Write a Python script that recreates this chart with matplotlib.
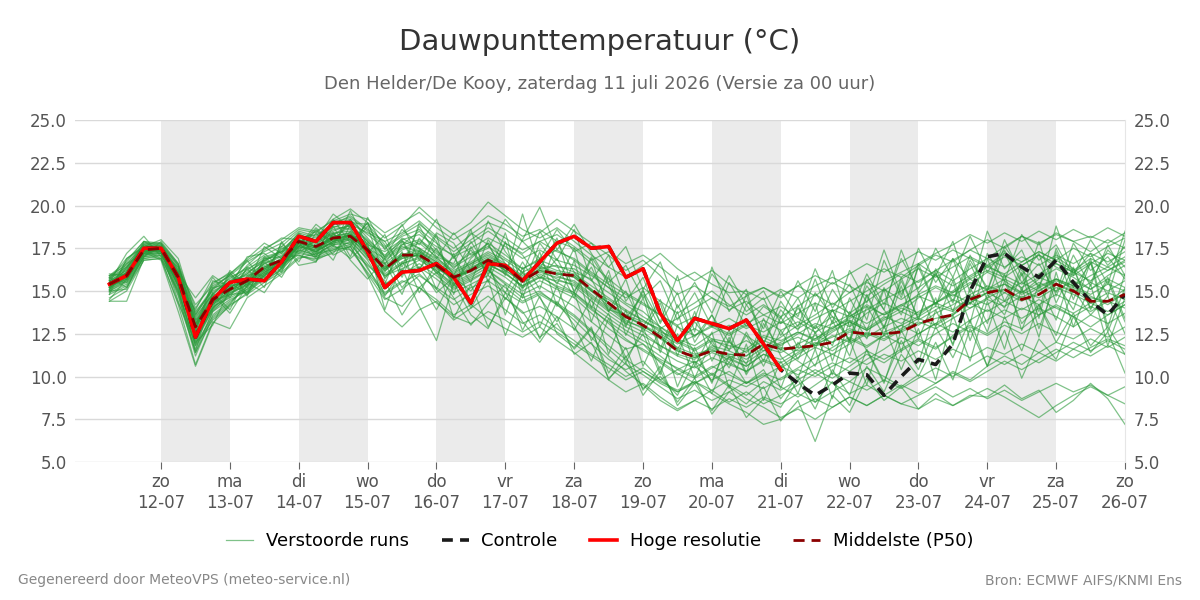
import matplotlib
matplotlib.use("Agg")
import matplotlib.pyplot as plt
import pandas as pd

# ---------------- data ----------------
start_time = "2026-07-11 06:00"
n_steps = 60  # 6-hourly

hres = [15.4, 15.9, 17.5, 17.5, 15.8, 12.3, 14.5, 15.5, 15.7, 15.6,
        16.7, 18.2, 17.9, 19.0, 19.0, 17.3, 15.2, 16.1, 16.2, 16.6,
        15.8, 14.3, 16.6, 16.5, 15.6, 16.7, 17.8, 18.2, 17.5, 17.6,
        15.8, 16.3, 13.7, 12.1, 13.4, 13.1, 12.8, 13.3, 11.9, 10.4]

control = [15.4, 15.9, 17.5, 17.5, 15.8, 12.3, 14.5, 15.5, 15.7, 15.6,
           16.7, 18.2, 17.9, 19.0, 19.0, 17.3, 15.2, 16.1, 16.2, 16.6,
           15.8, 14.3, 16.6, 16.5, 15.6, 16.7, 17.8, 18.2, 17.5, 17.6,
           15.8, 16.3, 13.7, 12.1, 13.4, 13.1, 12.8, 13.3, 11.9, 10.4,
           9.6, 8.9, 9.5, 10.2, 10.1, 8.9, 10.0, 11.0, 10.7, 11.9,
           15.0, 17.0, 17.2, 16.4, 15.8, 16.8, 15.5, 14.4, 13.6, 14.8]

p50 = [15.4, 15.9, 17.4, 17.5, 15.8, 12.9, 14.5, 15.1, 15.6, 16.4,
       16.8, 17.9, 17.6, 18.1, 18.2, 17.4, 16.3, 17.1, 17.1, 16.5,
       15.8, 16.2, 16.8, 16.4, 15.6, 16.2, 16.0, 15.9, 15.1, 14.3,
       13.5, 13.0, 12.3, 11.5, 11.15, 11.5, 11.3, 11.25, 11.9, 11.6,
       11.7, 11.8, 12.0, 12.6, 12.5, 12.5, 12.6, 13.1, 13.4, 13.6,
       14.5, 14.9, 15.1, 14.5, 14.8, 15.4, 15.0, 14.4, 14.4, 14.8]

members = [
    [15.2,15.8,17.3,17.6,15.5,12.4,14.2,15.0,15.8,16.6,17.1,18.0,17.8,18.5,18.9,17.9,16.8,17.5,17.9,17.2,
     16.4,17.0,17.8,17.1,16.3,16.9,17.4,16.8,16.0,15.2,14.3,13.8,12.9,12.1,11.6,12.2,12.0,11.4,12.3,11.8,
     12.5,13.1,12.8,13.5,14.2,13.6,14.1,14.8,15.3,14.9,15.7,16.2,15.8,16.5,17.1,16.4,15.9,16.6,17.2,16.8],
    [15.6,16.2,17.5,17.3,14.8,11.2,13.6,14.4,15.1,15.9,16.5,17.2,17.0,17.6,17.4,16.1,14.8,15.5,16.0,15.1,
     14.2,14.8,15.3,14.6,13.7,14.1,13.5,12.8,11.9,11.0,10.4,10.9,9.8,9.1,9.6,10.2,9.5,8.9,9.7,9.2,
     9.8,10.4,9.9,10.6,11.3,10.8,11.5,12.1,11.6,12.4,13.0,12.5,13.2,12.8,13.6,14.1,13.5,12.9,13.6,14.2],
    [15.9,16.5,17.8,17.7,16.2,13.4,14.9,15.6,16.2,17.0,17.3,18.4,18.1,18.9,19.4,18.6,17.9,18.4,19.1,18.2,
     17.5,18.3,19.0,18.6,17.9,18.4,19.2,18.5,17.8,17.1,16.2,16.8,15.9,14.8,15.3,14.6,13.9,14.4,13.6,14.1,
     13.4,12.8,13.5,12.9,13.7,14.3,13.8,14.6,15.2,14.7,15.4,16.1,15.6,14.9,15.7,16.3,15.8,15.1,15.9,16.5],
    [14.8,15.3,17.0,17.2,15.1,11.8,13.3,14.1,14.9,15.7,16.2,17.4,17.1,17.8,18.0,16.8,15.2,16.0,16.6,15.9,
     15.1,15.6,16.2,15.5,14.8,15.3,14.7,14.1,13.2,12.4,11.6,11.9,10.8,10.1,10.6,9.8,10.3,9.6,10.1,9.4,
     8.8,9.5,10.2,9.7,10.5,10.0,9.4,10.1,9.6,10.3,9.8,10.6,11.2,10.7,11.4,10.9,11.6,12.2,11.7,12.3],
    [15.3,15.7,17.2,17.4,15.9,13.1,14.6,15.3,15.5,16.1,16.6,17.6,17.3,17.9,18.3,17.5,16.9,17.6,17.3,16.6,
     15.5,16.0,16.5,16.1,15.2,15.8,15.6,15.4,14.6,13.8,13.1,12.6,11.8,11.3,11.0,11.8,11.5,11.0,11.7,11.4,
     11.9,12.4,12.0,12.7,12.3,12.9,13.4,13.0,13.7,14.2,14.8,15.3,14.9,14.4,15.0,15.6,15.2,14.7,14.2,14.9],
    [14.4,15.0,16.8,16.9,14.2,10.7,13.2,12.8,14.6,15.3,16.0,16.9,17.2,17.4,17.9,16.9,15.9,16.3,16.8,16.2,
     15.4,15.9,16.6,16.0,15.3,15.9,15.2,14.8,13.9,13.2,12.5,11.9,11.2,10.4,10.9,10.1,10.8,10.3,11.0,10.6,
     11.3,11.9,12.6,13.2,12.7,13.4,14.0,13.6,14.3,15.0,15.8,16.4,16.0,16.7,17.3,16.8,17.5,17.0,17.6,18.1],
    [15.7,16.3,17.6,17.5,16.0,13.5,14.8,15.8,16.3,16.8,17.2,18.2,17.9,18.6,18.8,18.0,17.1,17.9,17.5,16.9,
     16.2,16.7,17.3,16.8,16.1,16.6,16.2,16.0,15.3,14.6,13.9,13.3,12.7,12.0,11.5,12.1,11.8,11.6,12.4,12.1,
     12.6,12.2,12.9,13.3,12.8,13.5,13.1,13.8,14.3,13.9,14.6,14.2,14.9,15.5,15.0,15.7,15.3,14.8,15.4,15.0],
    [15.5,16.0,17.4,17.6,16.3,14.2,15.3,15.9,16.7,17.3,17.8,18.6,18.4,19.2,19.8,19.0,18.1,18.8,19.9,19.0,
     18.3,19.0,20.2,19.4,18.6,18.1,18.7,17.9,17.1,16.4,15.8,16.5,17.2,16.3,15.6,16.2,15.4,14.8,15.2,14.6,
     15.3,14.7,15.5,14.9,15.6,16.3,15.8,16.5,17.1,16.7,17.4,16.9,17.6,18.2,17.7,18.4,17.9,17.3,18.0,17.5],
    [15.1,15.6,17.1,17.2,15.3,12.0,13.9,14.7,15.2,16.0,16.4,17.5,17.2,17.7,17.8,16.4,14.6,14.1,15.2,14.5,
     13.6,14.2,13.4,12.8,12.3,12.9,12.1,11.4,10.6,9.8,9.1,9.6,8.8,8.1,8.6,9.2,8.5,9.1,8.4,8.9,
     9.5,10.2,10.8,10.3,11.0,11.6,12.3,11.8,12.5,13.1,12.6,13.3,13.9,13.4,14.0,13.5,12.9,13.6,13.1,13.7],
    [15.8,16.6,17.7,17.8,16.5,13.8,15.0,15.5,16.0,16.9,17.0,18.1,18.3,18.7,19.1,18.3,17.5,18.2,18.6,17.8,
     17.0,17.5,18.1,17.6,16.9,17.4,16.8,16.5,15.9,15.2,14.6,15.2,14.4,13.7,14.3,15.0,14.2,13.6,14.2,13.5,
     14.1,14.8,14.2,14.9,15.5,15.0,15.7,16.3,15.8,16.4,17.0,16.5,17.2,16.7,17.3,16.8,16.2,16.9,16.4,17.0],
    [15.0,15.5,17.0,17.1,15.6,12.6,14.0,14.9,15.4,16.2,16.7,17.7,17.4,18.2,18.4,17.2,16.0,16.7,17.2,16.4,
     15.7,16.3,16.9,16.2,15.5,16.0,15.5,14.9,14.0,13.1,12.2,11.5,10.9,10.2,9.6,10.1,9.4,8.7,8.2,7.6,
     8.1,7.5,8.2,8.8,8.3,8.9,9.5,9.0,9.6,10.2,9.7,10.3,10.9,10.4,11.0,11.6,11.1,11.7,12.2,11.8],
    [15.4,16.1,17.5,17.3,15.7,12.9,14.4,14.8,15.6,16.3,16.9,17.8,17.5,18.0,18.3,17.6,16.5,17.2,17.0,16.3,
     15.8,16.4,16.8,16.2,15.6,16.3,16.5,16.1,15.0,14.1,13.3,12.8,12.2,11.6,11.1,11.7,11.2,10.8,11.5,11.9,
     12.3,11.8,12.4,12.0,12.6,12.2,12.8,13.4,13.0,13.6,14.3,14.9,14.4,15.0,14.6,15.2,14.8,14.3,14.9,14.5],
    [15.2,15.9,17.4,17.5,15.2,11.6,13.8,14.5,15.0,15.8,16.3,17.3,17.0,17.5,17.7,16.6,15.4,16.1,16.4,15.7,
     14.9,15.4,15.9,15.2,14.4,14.9,14.3,13.6,12.7,11.8,11.0,10.3,9.7,9.2,9.7,9.0,8.4,7.9,7.2,7.5,
     8.2,8.7,8.2,8.8,8.3,8.9,8.4,8.1,8.7,8.3,8.8,9.3,8.8,8.2,7.6,8.3,8.9,9.4,8.9,8.4],
    [15.6,16.0,17.3,17.4,15.8,13.0,14.5,15.2,15.7,16.5,16.8,17.9,17.6,18.1,18.0,17.3,16.2,17.0,17.4,16.7,
     15.9,16.1,16.7,16.3,15.7,16.1,15.8,15.6,14.8,14.0,13.2,12.9,12.4,11.7,11.3,11.6,11.1,11.5,12.1,11.7,
     11.5,11.9,12.3,12.8,12.4,12.6,13.0,13.5,14.1,13.8,14.6,15.1,15.4,14.8,15.3,15.7,15.1,14.6,14.4,15.1],
    [15.3,15.8,17.2,17.5,16.1,13.2,14.7,15.4,16.1,16.7,17.4,18.3,18.0,18.8,18.6,17.7,17.3,18.0,18.3,17.6,
     17.1,17.8,18.5,17.8,17.2,17.9,18.3,17.6,16.8,17.3,16.6,17.1,16.4,15.6,16.1,15.4,14.9,15.0,14.5,15.1,
     14.6,15.3,15.8,15.3,14.7,15.4,16.0,15.5,16.2,15.6,16.3,16.9,16.4,17.0,16.5,17.1,16.6,17.2,16.7,17.3],
    [14.9,15.4,16.9,17.0,14.9,11.9,13.5,14.3,15.3,16.1,16.6,17.1,16.8,17.3,17.6,15.9,13.8,12.9,13.9,14.4,
     13.3,14.0,14.7,13.9,13.1,13.6,12.8,12.1,11.3,10.7,10.0,10.5,9.8,10.4,9.9,10.5,11.1,10.6,11.3,10.8,
     11.4,12.0,11.5,12.2,11.7,12.4,11.9,12.5,13.1,12.6,13.3,13.9,13.4,14.0,13.6,14.2,13.7,14.3,13.8,14.4],
    [15.7,16.4,17.6,17.6,16.1,13.3,14.8,15.6,15.9,16.6,17.0,18.0,17.7,18.4,18.5,17.8,16.6,17.4,17.8,17.0,
     16.0,16.6,17.2,16.6,15.9,16.5,15.9,15.5,14.7,13.9,13.6,13.0,12.5,11.9,12.4,12.9,12.4,13.0,12.6,13.2,
     12.8,13.4,13.9,13.5,14.1,13.6,14.2,14.7,14.3,14.9,15.5,15.1,15.7,15.2,15.8,15.4,14.9,15.5,15.0,15.6],
    [15.5,16.1,17.3,17.4,15.6,12.7,14.3,15.0,15.5,16.2,16.6,17.7,17.3,17.9,18.1,17.0,16.4,16.9,17.3,16.7,
     15.9,16.5,17.0,16.5,15.8,16.4,16.1,15.8,15.0,14.5,13.8,13.3,12.6,12.2,11.8,12.5,13.0,12.4,11.7,12.3,
     13.0,13.6,14.3,13.7,14.4,15.1,14.5,15.2,15.9,15.3,15.9,16.5,15.9,15.4,16.0,16.6,16.1,15.6,16.2,16.7],
    [15.2,15.7,17.1,17.3,15.4,12.2,14.1,14.6,15.1,15.9,16.5,17.4,17.1,17.7,18.0,16.3,14.9,15.6,15.2,14.3,
     13.5,13.1,13.8,13.3,12.6,13.2,12.6,11.9,11.2,10.5,9.8,10.3,9.6,9.1,9.7,9.2,9.8,9.4,10.0,10.6,
     10.1,10.7,11.3,10.8,11.5,11.0,11.6,12.2,11.7,12.3,12.9,12.4,13.0,12.5,13.1,12.6,12.2,12.8,12.3,12.9],
    [15.4,15.9,17.4,17.5,16.0,13.0,14.6,15.2,15.8,16.4,16.9,17.9,17.6,18.2,18.4,17.4,16.3,17.1,17.5,16.8,
     16.1,16.6,17.1,16.5,15.7,16.2,15.7,15.3,14.4,13.6,12.9,12.4,11.8,11.2,10.8,11.4,11.0,10.6,11.3,11.0,
     11.6,12.2,12.8,13.4,13.9,14.5,15.0,15.6,16.2,16.8,17.4,18.0,17.5,18.2,17.8,18.3,17.9,18.2,17.8,18.4],
    [15.0,15.6,17.2,17.3,15.3,12.4,14.0,14.8,15.4,16.0,16.5,17.6,17.4,17.8,18.1,17.1,15.8,16.6,17.0,16.2,
     15.3,15.8,16.4,15.8,15.0,15.6,15.1,14.6,13.7,12.8,12.1,11.6,11.0,10.5,10.0,10.6,10.1,9.6,10.2,9.8,
     10.4,10.0,10.6,11.1,10.7,11.3,10.9,11.5,11.0,11.6,11.1,11.7,11.3,11.9,11.4,12.0,11.6,11.2,11.8,11.3],
    [15.6,16.2,17.6,17.7,16.4,13.6,15.1,15.7,16.4,17.1,17.6,18.5,18.2,19.0,19.3,18.5,17.6,18.3,18.9,18.1,
     17.3,18.0,18.7,18.1,17.4,17.9,17.3,16.9,16.1,15.4,14.8,14.2,13.6,13.0,13.5,12.9,13.4,12.8,13.3,12.7,
     13.2,12.6,13.1,13.6,13.1,13.7,14.2,13.7,14.3,14.8,14.3,14.9,15.4,14.9,15.5,15.0,15.6,15.1,15.7,15.2],
    [15.1,15.7,17.2,17.2,15.5,12.6,14.2,14.9,15.3,16.1,16.6,17.6,17.3,17.9,18.2,17.3,16.2,16.9,17.1,16.4,
     15.6,16.2,16.6,16.0,15.3,15.8,15.3,14.9,14.1,13.4,12.7,12.1,11.5,10.9,10.5,11.1,10.7,10.3,10.9,10.5,
     11.1,11.7,11.3,11.9,12.5,12.1,12.7,13.2,12.8,13.4,14.0,14.5,14.1,14.7,14.2,14.8,14.3,13.8,14.4,14.0],
    [15.8,16.4,17.7,17.6,16.2,13.7,15.2,15.4,16.0,16.8,17.3,18.2,17.8,18.3,18.7,17.9,17.0,17.7,18.0,17.3,
     16.5,17.2,17.6,16.9,16.3,16.8,16.4,16.3,15.6,14.9,14.2,13.5,12.9,12.3,12.8,12.2,11.6,12.1,11.5,12.0,
     12.6,12.1,12.7,13.2,12.7,13.3,13.8,13.3,13.9,14.5,14.0,14.6,15.1,14.6,15.2,15.7,15.3,15.9,16.4,15.9],
    [15.3,15.8,17.3,17.4,15.7,12.8,14.4,15.1,15.6,16.3,16.7,17.8,17.5,18.0,18.3,17.2,15.9,16.6,16.9,16.1,
     15.2,15.7,16.2,15.4,14.6,15.0,14.2,13.3,12.3,11.2,10.3,9.5,8.6,8.0,8.6,8.1,8.7,8.2,8.8,8.4,
     9.0,8.5,9.1,9.7,9.2,9.8,9.3,9.9,10.5,10.0,10.6,11.2,10.7,11.3,10.8,11.4,12.0,11.5,12.1,11.6],
    [15.5,16.0,17.4,17.5,15.9,13.1,14.6,15.2,15.7,16.4,16.8,17.9,17.6,18.2,18.3,17.5,16.4,17.1,17.2,16.5,
     15.8,16.3,16.9,16.4,15.7,16.3,16.0,15.8,15.0,14.3,13.6,13.2,12.8,13.4,14.0,14.6,14.1,14.7,15.2,14.7,
     15.3,15.9,15.4,16.0,16.6,16.1,16.7,17.3,16.8,17.4,16.9,16.4,17.0,16.5,17.1,16.6,16.1,16.7,16.2,16.8],
    [15.2,15.8,17.3,17.4,15.6,12.5,14.3,15.0,15.5,16.3,16.7,17.8,17.5,18.1,18.2,17.4,16.3,17.0,17.1,16.5,
     15.7,16.2,16.8,16.4,15.6,16.2,16.0,15.9,15.1,14.3,13.5,13.0,12.3,11.5,11.1,11.5,11.3,11.2,11.9,11.6,
     11.7,11.8,12.0,12.6,12.5,12.5,12.6,13.1,13.4,13.6,14.5,14.9,15.1,14.5,14.8,15.4,15.0,14.4,14.4,14.8],
    [15.4,16.0,17.4,17.4,15.8,12.9,14.5,15.1,15.6,16.4,16.8,17.9,17.6,18.1,18.2,17.4,16.3,17.1,17.1,16.5,
     15.8,16.2,16.8,16.4,15.6,16.2,16.0,15.9,15.1,14.3,13.5,13.0,12.3,11.5,11.2,11.5,11.3,11.2,11.9,11.6,
     10.9,10.2,9.6,9.0,9.5,8.9,8.4,8.9,9.4,8.8,9.3,8.7,9.2,8.6,9.1,9.6,9.1,9.5,8.9,9.4],
    [15.9,16.7,17.9,17.8,16.6,14.0,15.5,16.0,16.8,17.5,18.0,18.7,18.5,19.1,19.5,19.2,18.4,19.0,19.6,18.7,
     18.0,18.6,19.4,18.9,18.2,18.6,17.9,17.5,16.6,15.7,14.9,14.3,13.6,12.9,12.4,13.0,12.5,13.1,13.6,13.1,
     13.7,14.3,13.8,14.4,15.0,15.6,16.1,16.6,17.2,17.7,18.3,17.8,18.4,17.9,18.5,18.0,18.6,18.1,18.7,18.2],
    [14.6,15.2,16.8,16.9,15.0,11.4,13.4,14.2,14.8,15.5,16.1,17.0,16.9,17.4,17.6,16.0,14.5,15.1,15.9,15.2,
     14.5,15.2,15.6,14.9,14.3,14.8,14.2,13.5,12.6,11.6,10.7,10.1,9.4,8.7,9.2,8.6,9.1,9.7,9.3,9.9,
     10.5,11.1,11.7,12.3,11.8,12.4,13.0,12.5,13.1,13.7,14.3,13.8,14.4,13.9,14.5,14.0,13.5,14.1,13.6,14.2],
    [15.0,16.8,17.9,17.3,15.0,11.8,14.9,13.9,15.9,16.2,17.5,17.3,18.6,17.6,19.7,17.6,15.4,17.9,16.2,18.3,
     14.8,17.6,15.9,18.4,15.2,17.8,16.5,14.6,16.9,13.8,15.7,12.6,14.3,11.2,13.8,10.9,12.7,10.2,13.1,11.5,
     14.2,11.6,13.9,12.1,14.8,12.9,15.6,13.4,16.1,13.8,16.6,14.5,17.3,15.0,17.9,14.7,17.1,15.3,17.7,15.9],
    [15.8,15.2,17.0,17.9,16.6,13.0,15.4,16.1,14.7,17.0,16.1,18.3,17.0,19.2,17.8,19.0,16.6,14.8,17.4,15.1,
     17.2,14.2,16.8,13.6,16.4,12.9,15.3,12.7,14.6,11.3,13.9,10.6,12.8,9.4,11.7,9.6,12.3,10.1,11.8,9.3,
     12.0,10.6,13.3,11.2,14.1,12.4,15.3,12.2,14.6,11.8,15.2,13.1,16.0,12.7,15.4,13.3,16.3,14.0,15.6,13.2],
    [14.4,14.4,16.9,17.1,14.7,11.4,13.8,14.8,14.9,16.7,15.8,17.5,17.9,16.8,18.9,18.4,17.9,16.4,18.8,17.0,
     16.6,18.6,15.5,17.9,14.6,17.3,14.1,16.8,13.2,15.9,12.4,14.6,11.4,13.8,10.6,12.6,9.3,11.9,8.6,10.9,
     9.0,11.6,8.7,12.2,9.5,13.0,10.4,12.8,9.8,13.6,10.9,14.4,11.6,15.2,12.3,16.1,12.9,15.4,11.8,14.6],
    [15.5,17.2,18.2,17.0,16.1,12.1,14.0,16.2,15.3,17.6,16.9,18.0,17.2,18.9,19.2,17.2,18.3,16.0,19.0,17.9,
     15.3,16.9,17.8,15.9,19.5,16.3,18.1,14.9,17.0,15.4,12.9,15.0,13.2,15.9,12.6,16.4,13.8,15.1,11.9,14.4,
     12.9,15.7,13.1,16.2,14.3,17.4,14.8,16.6,15.9,17.9,14.9,18.5,16.3,17.4,15.1,18.8,16.0,17.2,15.4,18.5],
    [15.9,16.0,17.1,17.5,15.3,13.9,15.8,14.6,16.4,15.8,17.8,16.7,18.4,17.1,17.6,18.8,15.7,17.3,14.9,16.6,
     13.4,15.4,12.9,14.6,13.8,12.3,13.1,11.6,12.8,10.2,11.7,9.2,10.6,8.3,9.6,8.0,9.5,7.6,8.7,8.2,
     9.8,8.1,10.4,8.9,11.6,9.7,12.1,10.4,12.9,11.1,13.3,10.6,12.7,9.9,12.2,11.0,13.5,11.8,12.9,11.3],
    [15.1,16.4,17.4,16.9,14.3,12.0,13.0,15.1,16.3,15.2,17.9,16.5,16.7,18.8,17.0,19.3,17.4,18.9,16.8,18.4,
     17.8,16.2,19.1,17.3,16.0,18.5,16.8,18.6,15.6,17.1,14.4,15.8,13.1,14.9,12.0,13.6,11.5,14.2,12.8,15.0,
     13.5,16.3,14.0,15.4,13.3,16.8,14.6,17.5,15.5,16.9,14.2,17.2,15.6,18.3,16.8,17.7,15.9,18.0,16.5,17.6],
    [15.3,16.1,17.7,17.4,14.4,11.5,14.8,13.7,15.3,16.8,16.4,17.6,18.7,17.7,16.9,17.8,13.9,16.7,15.6,13.9,
     15.9,14.0,15.7,12.4,14.9,12.2,14.4,13.0,10.9,13.4,11.1,12.5,10.1,13.0,11.4,9.7,12.1,10.7,13.4,11.2,
     9.9,12.6,10.1,13.3,11.5,9.6,12.7,10.8,13.9,11.9,14.8,12.6,15.6,13.1,14.2,12.4,15.1,13.6,14.7,12.5],
    [14.8,16.9,17.6,18.0,16.9,13.6,15.1,16.0,16.9,17.8,17.2,18.4,17.5,17.8,19.2,18.1,17.0,18.6,17.7,19.2,
     16.9,18.4,17.7,16.1,18.0,19.9,17.4,18.9,17.2,15.5,16.5,14.6,15.6,13.3,14.9,12.9,15.5,13.8,14.6,12.4,
     14.0,12.8,15.1,13.6,16.0,14.2,16.9,15.1,17.5,15.8,18.2,16.1,17.4,15.5,16.6,14.9,17.8,16.2,17.0,15.7],
    [16.0,15.9,17.9,17.6,15.4,12.3,14.6,15.4,16.8,15.5,16.3,18.1,17.9,18.4,17.4,16.5,15.6,13.6,15.2,16.1,
     14.6,13.0,14.3,15.4,12.7,14.7,12.5,11.7,12.9,9.8,11.2,8.9,10.3,8.5,9.9,7.8,9.1,8.4,9.4,7.4,
     8.6,6.2,8.9,7.9,9.9,8.6,9.4,8.1,9.0,8.3,8.9,8.8,9.5,8.7,9.2,7.9,8.6,9.6,8.7,7.2],
    [15.2,16.6,17.2,17.7,16.5,12.8,15.2,15.9,14.9,16.0,17.6,17.2,18.0,19.5,18.7,17.0,16.6,18.0,16.3,17.5,
     15.9,17.9,16.3,14.9,16.7,15.1,17.9,16.1,15.7,13.8,15.0,12.9,14.5,12.1,13.4,16.0,14.7,12.9,14.1,13.4,
     15.6,13.8,16.2,12.9,15.3,13.9,17.4,14.9,16.0,14.3,16.8,15.2,14.0,16.5,13.4,17.3,14.5,16.9,12.9,16.0],
    [15.6,15.5,17.0,17.6,16.0,14.6,15.9,15.2,17.0,17.2,16.3,17.8,18.5,17.9,19.0,18.9,17.7,15.8,18.1,16.9,
     18.4,17.1,17.5,19.2,17.9,16.9,18.6,17.3,17.8,16.4,17.6,15.1,16.7,14.0,15.5,13.7,15.9,14.2,15.0,13.1,
     14.6,12.5,13.9,12.0,14.7,12.8,15.8,13.3,16.3,14.4,17.1,15.0,18.0,15.9,17.2,14.3,16.4,13.9,15.8,13.4],
    [15.0,15.1,17.3,16.8,13.8,10.6,13.1,14.2,15.5,14.9,16.4,17.8,16.9,17.2,18.5,17.3,14.7,16.3,14.1,12.1,
     15.5,13.6,12.8,14.9,13.2,12.0,13.5,11.3,12.0,9.9,10.8,9.3,10.0,8.9,10.9,9.0,11.2,9.6,10.4,8.7,
     10.0,8.5,9.7,8.3,10.6,9.1,11.3,10.0,12.0,9.8,12.8,10.6,13.5,11.5,14.2,12.0,13.7,11.4,12.6,10.2],
    [15.7,16.9,17.6,17.2,16.4,13.3,14.2,16.0,15.2,16.9,17.3,17.6,18.9,18.1,17.7,19.0,16.9,18.1,17.5,16.0,
     17.0,15.5,18.0,16.6,15.1,16.9,15.4,17.5,14.0,16.2,13.0,15.1,11.6,14.2,12.3,13.6,12.0,14.8,11.9,13.9,
     12.7,14.9,13.5,12.1,15.7,13.9,12.6,16.6,14.2,15.8,13.1,16.9,14.4,16.1,13.8,17.5,15.2,16.6,14.7,18.0],
    [14.5,15.7,17.4,17.3,15.7,12.2,13.9,15.5,14.8,15.9,16.9,17.1,16.7,18.4,16.8,15.7,16.9,15.2,16.4,14.9,
     15.8,15.0,16.4,14.5,16.1,14.6,13.2,14.9,12.1,13.7,10.8,12.9,10.3,12.5,9.9,12.1,10.5,12.6,10.9,13.5,
     11.7,14.3,10.9,13.8,12.2,15.1,11.4,14.9,12.9,15.6,12.1,14.8,13.6,16.0,12.8,15.5,13.9,16.7,12.6,15.2],
    [15.4,16.3,17.8,17.8,15.9,12.6,15.6,15.3,16.5,17.4,18.1,18.0,17.3,18.3,18.9,17.5,16.1,17.7,18.5,17.4,
     16.3,17.4,16.0,17.8,17.1,15.7,16.9,15.0,16.4,14.2,13.4,14.8,12.8,11.6,13.2,11.9,10.8,12.4,10.6,12.7,
     11.0,13.0,11.8,14.6,12.7,15.2,13.6,16.4,14.1,16.9,15.7,15.0,17.6,16.2,15.3,17.0,16.3,15.5,17.4,16.4],
]

day_labels = ["zo\n12-07", "ma\n13-07", "di\n14-07", "wo\n15-07", "do\n16-07",
              "vr\n17-07", "za\n18-07", "zo\n19-07", "ma\n20-07", "di\n21-07",
              "wo\n22-07", "do\n23-07", "vr\n24-07", "za\n25-07", "zo\n26-07"]
first_tick_day = "2026-07-12"
shade_starts = ["2026-07-12", "2026-07-14", "2026-07-16", "2026-07-18",
                "2026-07-20", "2026-07-22", "2026-07-24"]

title = "Dauwpunttemperatuur (°C)"
subtitle = "Den Helder/De Kooy, zaterdag 11 juli 2026 (Versie za 00 uur)"
footer_left = "Gegenereerd door MeteoVPS (meteo-service.nl)"
footer_right = "Bron: ECMWF AIFS/KNMI Ens"

# ---------------- plot ----------------
times = pd.date_range(start_time, periods=n_steps, freq="6h")
tick_days = pd.date_range(first_tick_day, periods=len(day_labels), freq="D")

fig = plt.figure(figsize=(12, 6), dpi=100)
ax = fig.add_axes([0.0625, 0.23, 0.875, 0.57])

for s in shade_starts:
    t0 = pd.Timestamp(s)
    ax.axvspan(t0, t0 + pd.Timedelta(days=1), color="#ebebeb", zorder=0, lw=0)

for i, m in enumerate(members):
    ax.plot(times[:len(m)], m, color="#2a9a3a", lw=0.9, alpha=0.6, zorder=2,
            label="Verstoorde runs" if i == 0 else None)

ax.plot(times[:len(control)], control, color="#1a1a1a", lw=2.6, ls=(0, (3, 2)),
        zorder=3, label="Controle")
ax.plot(times[:len(hres)], hres, color="#ff0000", lw=2.6, zorder=4,
        label="Hoge resolutie")
ax.plot(times[:len(p50)], p50, color="#8b0000", lw=2.0, ls=(0, (4, 2.5)),
        zorder=5, label="Middelste (P50)")

ax.set_xlim(pd.Timestamp("2026-07-10 18:00"), pd.Timestamp("2026-07-26 00:00"))
ax.set_ylim(5, 25)
yt = [5, 7.5, 10, 12.5, 15, 17.5, 20, 22.5, 25]
ax.set_yticks(yt)
ax.set_yticklabels([f"{v:.1f}" for v in yt])
ax.set_xticks(tick_days)
ax.set_xticklabels(day_labels)

ax.grid(axis="y", color="#d9d9d9", lw=1)
ax.set_axisbelow(True)
for side in ["left", "top", "bottom"]:
    ax.spines[side].set_visible(False)
ax.spines["right"].set_color("#e6e6e6")

ax.tick_params(axis="y", which="both", length=0, labelsize=12, labelcolor="#555555",
               labelleft=True, labelright=True, pad=6)
ax.tick_params(axis="x", length=5, color="#666666", labelsize=12, labelcolor="#555555", pad=3)

fig.text(0.5, 0.93, title, ha="center", va="center", fontsize=21, color="#333333")
fig.text(0.5, 0.86, subtitle, ha="center", va="center", fontsize=13, color="#666666")

leg = fig.legend(loc="center", bbox_to_anchor=(0.5, 0.098), ncol=4, frameon=False,
                 fontsize=13, handlelength=1.5, columnspacing=1.8, handletextpad=0.7)

fig.text(0.015, 0.033, footer_left, ha="left", va="center", fontsize=10, color="#888888")
fig.text(0.985, 0.033, footer_right, ha="right", va="center", fontsize=10, color="#888888")

fig.savefig("out.png", dpi=100)
